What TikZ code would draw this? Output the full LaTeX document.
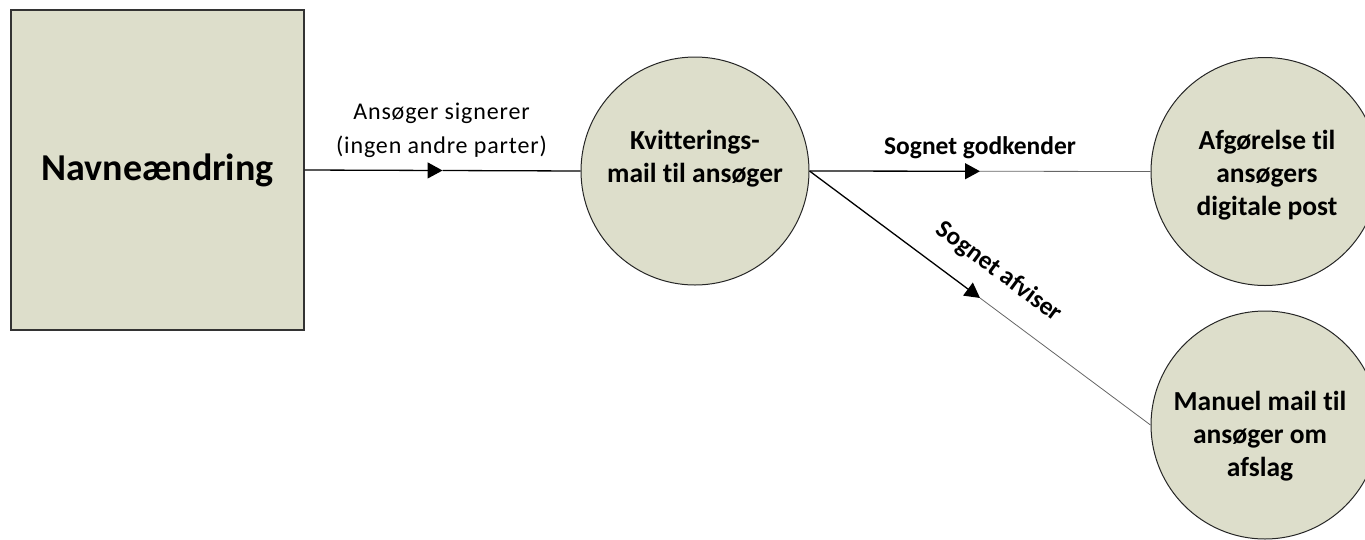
\documentclass[tikz,border=0pt]{standalone}
\usepackage{fontspec}
\setmainfont{Carlito}[Ligatures={NoCommon}]
\newfontfamily\spacedfont{Carlito}[Ligatures={NoCommon},LetterSpace=3.5]
\usetikzlibrary{arrows.meta}
\definecolor{boxfill}{RGB}{221,222,203}
\begin{document}
\begin{tikzpicture}[x=1pt,y=-1pt,
  box/.style={draw=black!80, line width=1.2pt, fill=boxfill, minimum width=293pt, minimum height=320pt, inner sep=0pt},
  circ/.style={circle, draw=black!85, line width=1pt, fill=boxfill, minimum size=228pt, inner sep=0pt},
  ctext/.style={align=center, inner sep=0pt, font=\bfseries\fontsize{27.5}{33}\selectfont},
  elabel/.style={align=center, inner sep=0pt, font=\spacedfont\fontsize{24}{34}\selectfont},
  blabel/.style={inner sep=0pt, font=\bfseries\fontsize{25.5}{30}\selectfont},
  arrowhalf/.style={draw=black, line width=1.3pt, -{Triangle[length=15pt,width=16pt]}},
  thinhalf/.style={draw=black!60, line width=0.8pt},
  fullline/.style={draw=black, line width=1.3pt}]
\useasboundingbox (0,0) rectangle (1365,539);
\clip (0,0) rectangle (1365,539);
% nodes
\node[box] (nav) at (157.5,170) {};
\node[inner sep=0pt, font=\bfseries\fontsize{38}{44}\selectfont] (navt) at (nav.center) {Navneændring};
\node[circ] (kv) at (695,171) {};
\node[ctext] (kvt) at (695,159) {Kvitterings-\\mail til ansøger};
\node[circ] (af) at (1265,171.5) {};
\node[ctext] (aft) at (1267,175) {Afgørelse til\\ansøgers\\digitale post};
\node[circ] (ma) at (1265,425) {};
\node[ctext] (mat) at (1260,436) {Manuel mail til\\ansøger om\\afslag};
% connectors
\path (nav.east) -- (kv.west) coordinate[pos=0.5] (m1);
\draw[arrowhalf] (nav.east) -- (m1);
\draw[fullline] (m1) -- (kv.west);
\coordinate (kvo) at (kv.east);
\path (kvo) -- (af.west) coordinate[pos=0.5] (m2);
\draw[arrowhalf] (kvo) -- (m2);
\draw[thinhalf] (m2) -- (af.west);
\path (kvo) -- (ma.west) coordinate[pos=0.5] (m3);
\draw[arrowhalf] (kvo) -- (m3);
\draw[thinhalf] (m3) -- (ma.west);
% labels
\node[elabel] (l1) at (441.5,130) {Ansøger signerer\\(ingen andre parter)};
\node[blabel, anchor=base] (l2) at (980,154) {Sognet godkender};
\node[blabel, rotate=-36.6] (l3) at (999,272) {Sognet afviser};
\end{tikzpicture}
\end{document}
